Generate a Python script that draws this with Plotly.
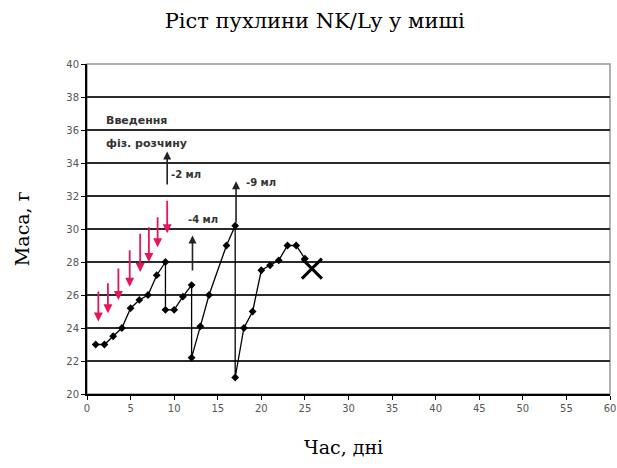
import plotly.graph_objects as go

# Tumour mass data (days, grams)
days = [1, 2, 3, 4, 5, 6, 7, 8, 9, 9, 10, 11, 12, 12, 13, 14, 16, 17, 17, 18, 19, 20, 21, 22, 23, 24, 25]
mass = [23, 23, 23.5, 24, 25.2, 25.7, 26, 27.2, 28, 25.1, 25.1, 25.9, 26.6, 22.2, 24.1, 26, 29, 30.2, 21, 24, 25, 27.5, 27.8, 28.1, 29, 29, 28.2]

death_day = [25.8]
death_mass = [27.6]

# Red arrows (injection of saline)
inj_day = [1.3, 2.4, 3.6, 4.9, 6.1, 7.1, 8.1, 9.2]
inj_top = [26.3, 26.8, 27.7, 28.8, 29.8, 30.2, 30.8, 31.8]
inj_head = [24.4, 24.9, 25.7, 26.5, 27.4, 28.0, 28.9, 29.75]

# Black arrows (fluid removed)
rem_day = [9.2, 12.1, 17.1]
rem_base = [32.6, 27.4, 30.3]
rem_head = [34.7, 29.6, 32.9]
rem_text = ["-2 мл", "-4 мл", "-9 мл"]
rem_text_x = [9.4, 11.3, 18.0]
rem_text_y = [33.3, 30.6, 32.8]

note_lines = ["Введення", "фіз. розчину"]
note_y = [36.6, 35.2]
note_x = 2.0

x_ticks = list(range(0, 61, 5))
y_ticks = list(range(20, 41, 2))

fig = go.Figure()
fig.add_trace(go.Scatter(
    x=days, y=mass, mode="lines+markers",
    line=dict(color="black", width=1.3),
    marker=dict(symbol="diamond", size=6, color="black"),
    showlegend=False, hoverinfo="x+y"))
fig.add_trace(go.Scatter(
    x=death_day, y=death_mass, mode="markers",
    marker=dict(symbol="x-thin", size=20, line=dict(color="black", width=3)),
    showlegend=False))

small_font = dict(family="DejaVu Sans", size=10, color="#333")
annotations = []
for d, t, h in zip(inj_day, inj_top, inj_head):
    annotations.append(dict(x=d, y=h, ax=d, ay=t, xref="x", yref="y",
                            axref="x", ayref="y", showarrow=True, text="",
                            arrowhead=2, arrowsize=1, arrowwidth=1.8,
                            arrowcolor="#e3175a"))
for d, b, h in zip(rem_day, rem_base, rem_head):
    annotations.append(dict(x=d, y=h, ax=d, ay=b, xref="x", yref="y",
                            axref="x", ayref="y", showarrow=True, text="",
                            arrowhead=2, arrowsize=1, arrowwidth=1.6,
                            arrowcolor="#222"))
for tx, xx, yy in zip(rem_text, rem_text_x, rem_text_y):
    annotations.append(dict(x=xx, y=yy, xref="x", yref="y", text="<b>" + tx + "</b>",
                            showarrow=False, xanchor="left", font=small_font))
for tx, yy in zip(note_lines, note_y):
    annotations.append(dict(x=note_x, y=yy, xref="x", yref="y", text="<b>" + tx + "</b>",
                            showarrow=False, xanchor="left",
                            font=dict(family="DejaVu Sans", size=11, color="#333")))

# axis titles
annotations.append(dict(x=0.49, y=-0.16, xref="paper", yref="paper", text="Час, дні",
                        showarrow=False, xanchor="center", yanchor="middle",
                        font=dict(family="DejaVu Serif", size=19, color="black")))
annotations.append(dict(x=-0.124, y=0.5, xref="paper", yref="paper", text="Маса, г",
                        showarrow=False, xanchor="center", yanchor="middle", textangle=-90,
                        font=dict(family="DejaVu Serif", size=19, color="black")))

fig.update_layout(
    width=617, height=468,
    margin=dict(l=87, r=7, t=64, b=74, autoexpand=False),
    paper_bgcolor="white", plot_bgcolor="white",
    title=dict(text="Ріст пухлини NK/Ly у миші", x=0.51, xanchor="center",
               y=0.955, yanchor="middle",
               font=dict(family="DejaVu Serif", size=21, color="black")),
    annotations=annotations,
    shapes=[dict(type="rect", xref="paper", yref="paper", x0=0, y0=0, x1=1, y1=1,
                 line=dict(color="#999", width=1.5), layer="below")],
    xaxis=dict(range=[0, 60], tickvals=x_ticks, ticks="outside", ticklen=4,
               tickcolor="black", showgrid=False, zeroline=False,
               showline=True, linecolor="black", linewidth=2,
               ticklabeloverflow="allow", automargin=False,
               tickfont=dict(family="DejaVu Sans", size=10, color="#555")),
    yaxis=dict(range=[20, 40], tickvals=y_ticks, ticks="outside", ticklen=4,
               tickcolor="black", showgrid=True, gridcolor="#2a2a2a", gridwidth=1.5,
               zeroline=False, showline=True, linecolor="black", linewidth=2,
               automargin=False,
               tickfont=dict(family="DejaVu Sans", size=10, color="#555")),
)

fig.write_html("out.html", config={"displayModeBar": False},
               post_script="document.body.style.margin='0px';document.body.style.overflow='hidden';")
